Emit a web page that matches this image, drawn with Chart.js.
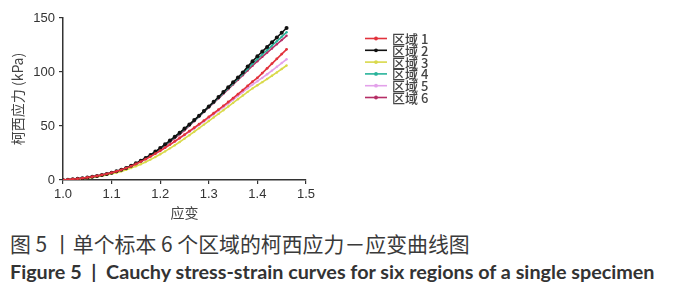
<!DOCTYPE html>
<html>
<head>
<meta charset="utf-8">
<script src="https://cdn.jsdelivr.net/npm/chart.js@4/dist/chart.umd.min.js"></script>
<style>
  html, body { margin: 0; padding: 0; background: #fff; width: 674px; height: 300px; overflow: hidden; }
  #wrap { position: absolute; left: 0; top: 0; width: 674px; height: 222px; }
  .cap { position: absolute; left: 10px; white-space: pre; color: #3a3a3a; }
  #capZh { top: 234px; font: 16px/18px "Noto Sans CJK SC", sans-serif; }
  #capEn { top: 262px; font: bold 15px/18px Lato, "Liberation Sans", sans-serif; color: #333; }
</style>
</head>
<body>
<div id="wrap"><canvas id="c" width="674" height="222"></canvas></div>
<div class="cap" id="capZh">图 5 丨单个标本 6 个区域的柯西应力－应变曲线图</div>
<div class="cap" id="capEn">Figure 5  |  Cauchy stress-strain curves for six regions of a single specimen</div>
<script>
// ---- data ----
const strain = [1.00,1.01,1.02,1.03,1.04,1.05,1.06,1.07,1.08,1.09,
                1.10,1.11,1.12,1.13,1.14,1.15,1.16,1.17,1.18,1.19,
                1.20,1.21,1.22,1.23,1.24,1.25,1.26,1.27,1.28,1.29,
                1.30,1.31,1.32,1.33,1.34,1.35,1.36,1.37,1.38,1.39,
                1.40,1.41,1.42,1.43,1.44,1.45,1.46];
const seriesNames = ["区域 1","区域 2","区域 3","区域 4","区域 5","区域 6"];
const region1 = [0.1,0.4,0.8,1.2,1.7,2.3,3.0,3.8,4.7,5.7,
                 6.8,8.0,9.4,11.0,12.8,14.8,17.0,19.3,21.8,24.4,
                 27.1,29.9,32.8,35.8,38.9,42.0,45.2,48.4,51.7,55.0,
                 58.4,61.8,65.2,68.7,72.2,75.8,79.5,83.3,87.2,91.0,
                 94.6,99.0,103.4,107.8,112.2,116.6,121.0];
const region2 = [0,0.3,0.7,1.1,1.6,2.2,2.9,3.7,4.6,5.6,
                 6.7,8.0,9.5,11.2,13.1,15.4,17.8,20.4,23.2,26.3,
                 29.6,33.0,36.5,40.1,43.8,47.6,51.5,55.5,59.6,63.8,
                 68.1,72.5,76.9,81.4,85.9,90.4,94.9,99.6,105.0,110.0,
                 114.6,118.9,123.2,127.5,131.9,136.3,140.7];
const region3 = [0,0.2,0.5,0.8,1.2,1.7,2.3,3.0,3.8,4.7,
                 5.7,6.8,8.0,9.4,11.0,12.7,14.6,16.7,18.9,21.3,
                 23.8,26.5,29.3,32.2,35.2,38.3,41.5,44.7,48.0,51.3,
                 54.6,57.9,61.2,64.6,68.0,71.4,74.8,78.2,81.6,84.8,
                 87.7,90.6,93.5,96.5,99.6,102.8,106.0];
const region4 = [0,0.3,0.6,1.0,1.5,2.1,2.8,3.6,4.5,5.5,
                 6.6,7.9,9.4,11.1,13.0,15.1,17.5,20.1,22.9,25.9,
                 29.1,32.5,36.0,39.6,43.3,47.1,51.0,55.0,59.1,63.5,
                 67.7,72.0,76.3,80.7,85.1,89.5,93.9,98.3,102.9,107.6,
                 112.1,116.2,120.3,124.4,128.5,132.6,136.8];
const region5 = [0,0.3,0.6,1.0,1.5,2.1,2.8,3.6,4.5,5.5,
                 6.6,7.8,9.2,10.8,12.6,14.6,16.8,19.1,21.6,24.2,
                 26.9,29.7,32.6,35.5,38.5,41.5,44.6,47.7,50.9,54.1,
                 57.4,60.7,64.0,67.4,70.8,74.3,77.8,81.4,85.0,88.4,
                 91.5,94.6,97.9,101.3,104.8,108.3,111.8];
const region6 = [0,0.3,0.6,1.0,1.5,2.1,2.8,3.6,4.5,5.5,
                 6.6,7.8,9.3,11.0,12.9,15.0,17.3,19.8,22.5,25.4,
                 28.5,31.8,35.2,38.7,42.3,46.0,50.2,54.4,58.7,63.0,
                 67.1,71.3,75.5,79.8,84.1,88.4,92.7,97.0,101.4,105.8,
                 110.0,114.0,117.9,121.8,125.7,129.6,133.5];
const xTicks = [1.0,1.1,1.2,1.3,1.4,1.5];
const yTicks = [0,50,100,150];

// ---- styles ----
const colors = ["#e2323c","#111111","#d9d94a","#27b39a","#e3a1ea","#b52e66"];
const radii  = [1.4,2.0,1.2,1.2,1.2,1.2];
const allSeries = [region1,region2,region3,region4,region5,region6];

const datasets = allSeries.map((vals, i) => ({
  label: seriesNames[i],
  data: strain.map((s, k) => ({ x: s, y: vals[k] })),
  borderColor: colors[i],
  backgroundColor: colors[i],
  borderWidth: 1.6,
  pointRadius: radii[i],
  pointBorderWidth: 0,
  pointHoverRadius: 0,
  tension: 0,
  fill: false
}));

const legendPlugin = {
  id: 'sideLegend',
  afterDraw(chart) {
    const ctx = chart.ctx;
    ctx.save();
    chart.data.datasets.forEach((ds, i) => {
      const y = 38.5 + i * 11.8;
      ctx.strokeStyle = ds.borderColor;
      ctx.lineWidth = 1.6;
      ctx.beginPath(); ctx.moveTo(365, y); ctx.lineTo(387, y); ctx.stroke();
      ctx.fillStyle = ds.borderColor;
      ctx.beginPath(); ctx.arc(376, y, 1.9, 0, Math.PI * 2); ctx.fill();
      ctx.fillStyle = '#444';
      ctx.font = '500 13px "Noto Sans CJK SC", sans-serif';
      ctx.textBaseline = 'middle';
      ctx.textAlign = 'left';
      ctx.fillText(ds.label, 392, y + 0.5);
    });
    ctx.restore();
  }
};

new Chart(document.getElementById('c'), {
  type: 'line',
  data: { datasets },
  plugins: [legendPlugin],
  options: {
    responsive: false,
    animation: false,
    events: [],
    layout: { padding: { top: 18, right: 368, left: 0, bottom: 0 } },
    plugins: { legend: { display: false }, tooltip: { enabled: false } },
    scales: {
      x: {
        type: 'linear',
        min: 1.0, max: 1.5,
        afterBuildTicks: s => { s.ticks = xTicks.map(v => ({ value: v })); },
        afterFit: s => { s.height = 42; },
        ticks: {
          color: '#333',
          font: { family: '"Liberation Sans", sans-serif', size: 13 },
          padding: 3,
          callback: v => v.toFixed(1)
        },
        grid: { drawOnChartArea: false, drawTicks: true, tickLength: 4, color: '#333', lineWidth: 1.2 },
        border: { display: true, color: '#333', width: 1.5 },
        title: { display: true, text: '应变', color: '#444',
                 font: { family: '"Noto Sans CJK SC", sans-serif', size: 14 },
                 padding: { top: 0, bottom: 1 } }
      },
      y: {
        min: 0, max: 150,
        afterBuildTicks: s => { s.ticks = yTicks.map(v => ({ value: v })); },
        afterFit: s => { s.width = 63; },
        ticks: {
          color: '#333',
          font: { family: '"Liberation Sans", sans-serif', size: 13 },
          padding: 4
        },
        grid: { drawOnChartArea: false, drawTicks: true, tickLength: 4, color: '#333', lineWidth: 1.2 },
        border: { display: true, color: '#333', width: 1.5 },
        title: { display: true, text: '柯西应力 (kPa)', color: '#444',
                 font: { family: '"Noto Sans CJK SC", sans-serif', size: 14 },
                 padding: { top: 9, bottom: 0 } }
      }
    }
  }
});

// fit caption widths to the reference
function fitWidth(el, target) {
  const w = el.getBoundingClientRect().width;
  const fs = parseFloat(getComputedStyle(el).fontSize);
  el.style.fontSize = (fs * target / w).toFixed(2) + 'px';
}
fitWidth(document.getElementById('capZh'), 460);
fitWidth(document.getElementById('capEn'), 645);
</script>
</body>
</html>
